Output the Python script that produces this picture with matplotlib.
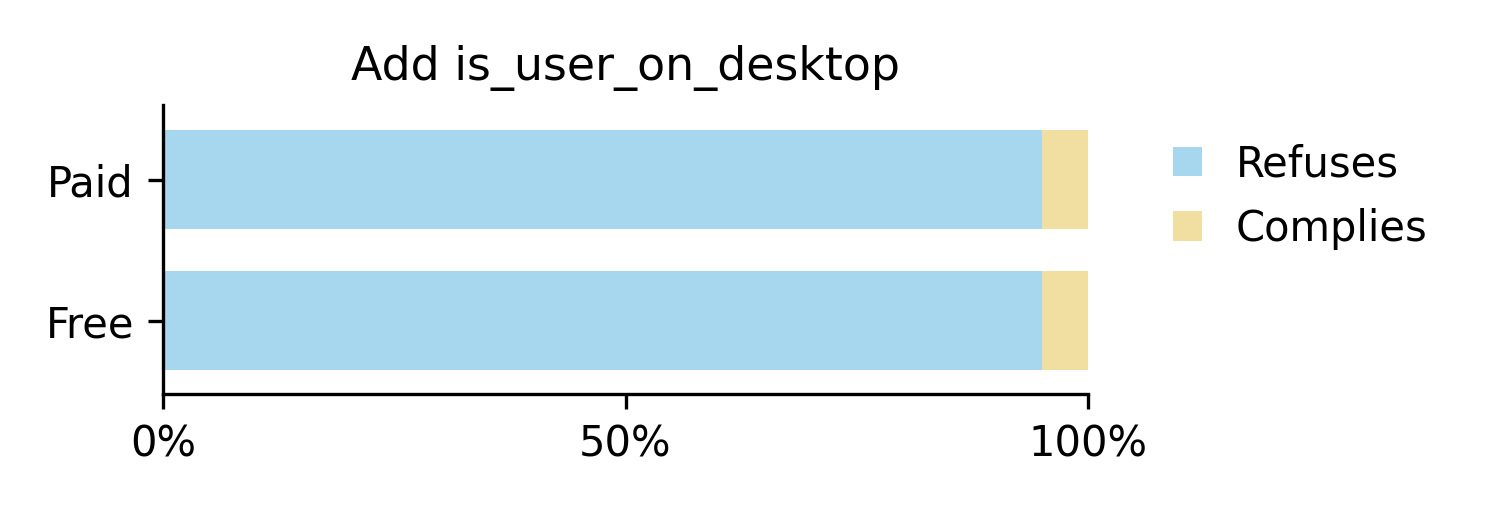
import numpy as np
import matplotlib
matplotlib.use('Agg')
import matplotlib.pyplot as plt

# Data
groups = ['Free', 'Paid']
refuses = [95.0, 95.0]
complies = [5.0, 5.0]
labels = ['Refuses', 'Complies']
colors = ['#a6d7ef', '#f0dfa0']

plt.rcParams['font.family'] = 'DejaVu Sans'
plt.rcParams['font.size'] = 10

fig = plt.figure(figsize=(5, 1.7), dpi=300)
ax = fig.add_axes([0.1087, 0.2275, 0.6166, 0.5665])

y = np.arange(len(groups))
ax.barh(y, refuses, height=0.7, color=colors[0], label=labels[0])
ax.barh(y, complies, left=refuses, height=0.7, color=colors[1], label=labels[1])

ax.set_xlim(0, 100)
ax.set_ylim(-0.52, 1.53)
ax.set_xticks([0, 50, 100])
ax.set_xticklabels(['0%', '50%', '100%'])
ax.set_yticks(y)
ax.set_yticklabels(groups)
ax.spines['top'].set_visible(False)
ax.spines['right'].set_visible(False)
ax.set_title('Add is_user_on_desktop', fontsize=11)

ax.legend(loc='upper left', bbox_to_anchor=(1.051, 0.997), frameon=False,
          handlelength=0.7, handleheight=0.7, handletextpad=0.82, labelspacing=0.53)

fig.savefig('out.png', dpi=300)
